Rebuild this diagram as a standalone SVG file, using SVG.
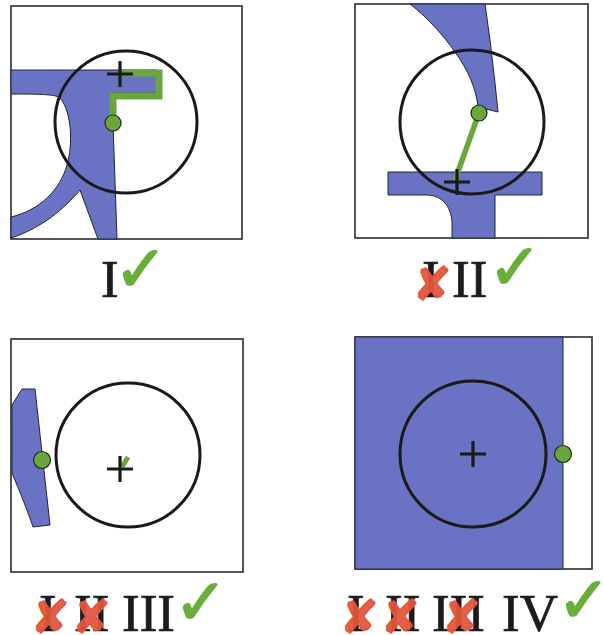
<svg xmlns="http://www.w3.org/2000/svg" width="603" height="635" viewBox="0 0 603 635">
  <style>
    .frame { fill: #ffffff; stroke: #2b2b2b; stroke-width: 1.6; }
    .body { fill: #6a72c3; stroke: #23243a; stroke-width: 1; stroke-linejoin: round; }
    .ring { fill: none; stroke: #1a1a1a; stroke-width: 3; }
    .cross { fill: none; stroke: #1a1a1a; stroke-width: 3.2; }
    .trail { fill: none; stroke: #6aa63e; stroke-linejoin: miter; }
    .dot { fill: #6aa63e; stroke: #1f2a14; stroke-width: 1.2; }
    .num { font-family: "Liberation Serif", "Times New Roman", serif; font-size: 53px; fill: #1c1c1c; stroke: #1c1c1c; stroke-width: 0.7; }
    .ok { font-family: "DejaVu Sans", sans-serif; font-size: 64px; fill: #6aae3a; stroke: #6aae3a; stroke-width: 1.6; stroke-linejoin: round; }
    .no { font-family: "DejaVu Sans", sans-serif; font-size: 46px; fill: #e2553b; stroke: #e2553b; stroke-width: 1.5; stroke-linejoin: round; fill-opacity: 0.95; }
  </style>
  <defs>
    <path id="plus" d="M-13,0 H13 M0,-13 V13"/>
  </defs>

  <!-- Case I -->
  <g id="case-1">
    <rect class="frame" x="11" y="6" width="231" height="233"/>
    <path class="body" d="M11,70 L157,70 L157,93 L113,93 L113,123 L117,239 L98,239 L80,190 C65,208 42,228 11,238 L11,217 C40,210 60,190 67,165 C73,145 72,112 60,98 C55,95 50,94 11,94 Z"/>
    <circle class="ring" cx="126" cy="122" r="71"/>
    <polyline class="trail" stroke-width="7" points="113,123 113,96 159,96 159,73 120,73"/>
    <circle class="dot" cx="113" cy="123" r="8"/>
    <use href="#plus" class="cross" x="120" y="74"/>
  </g>

  <!-- Case II -->
  <g id="case-2">
    <rect class="frame" x="355" y="4" width="233" height="234"/>
    <path class="body" d="M410,4 L485,4 L490,40 L495,83 L498,112 L478,107 C476,88 468,70 455,52 C443,35 428,18 410,4 Z"/>
    <path class="body" d="M388,172 L542,172 L542,195 L495,195 L495,238 L452,238 L452,222 C451,206 442,196 428,195 L388,195 Z"/>
    <circle class="ring" cx="472" cy="122" r="72"/>
    <line class="trail" stroke-width="5.5" x1="479" y1="113" x2="455" y2="180"/>
    <circle class="dot" cx="479" cy="113" r="8"/>
    <use href="#plus" class="cross" x="457" y="182"/>
  </g>

  <!-- Case III -->
  <g id="case-3">
    <rect class="frame" x="11" y="339" width="232" height="233"/>
    <path class="body" d="M22,389 L35,389 L50,525 L33,527 C28,512 20,492 12,473 L12,405 Z"/>
    <circle class="ring" cx="128" cy="455" r="72"/>
    <line class="trail" stroke-width="5" x1="122" y1="467" x2="128" y2="457"/>
    <circle class="dot" cx="42" cy="460" r="8.5"/>
    <use href="#plus" class="cross" x="120" y="469"/>
  </g>

  <!-- Case IV -->
  <g id="case-4">
    <rect class="frame" x="355" y="337" width="237" height="232"/>
    <rect class="body" x="355" y="337" width="208" height="232"/>
    <circle class="ring" cx="473" cy="454" r="73"/>
    <circle class="dot" cx="563" cy="454" r="8.5"/>
    <use href="#plus" class="cross" x="473" y="454"/>
  </g>

  <!-- Labels -->
  <g id="label-1">
    <text class="num" x="101" y="297">I</text>
    <text class="ok" x="114" y="291">✓</text>
  </g>
  <g id="label-2">
    <text class="num" x="422" y="297">I</text>
    <text class="num" x="452" y="297">II</text>
    <text class="no" x="413" y="300">✘</text>
    <text class="ok" x="488" y="289">✓</text>
  </g>
  <g id="label-3">
    <text class="num" x="39" y="631">I</text>
    <text class="num" x="74" y="631">II</text>
    <text class="num" x="122" y="631">III</text>
    <text class="no" x="31" y="633">✘</text>
    <text class="no" x="72" y="633">✘</text>
    <text class="ok" x="174" y="624">✓</text>
  </g>
  <g id="label-4">
    <text class="num" x="347" y="631">I</text>
    <text class="num" x="385" y="631">II</text>
    <text class="num" x="432" y="631">III</text>
    <text class="num" x="502" y="631">IV</text>
    <text class="no" x="340" y="633">✘</text>
    <text class="no" x="381" y="633">✘</text>
    <text class="no" x="442" y="633">✘</text>
    <text class="ok" x="557" y="622">✓</text>
  </g>
</svg>
